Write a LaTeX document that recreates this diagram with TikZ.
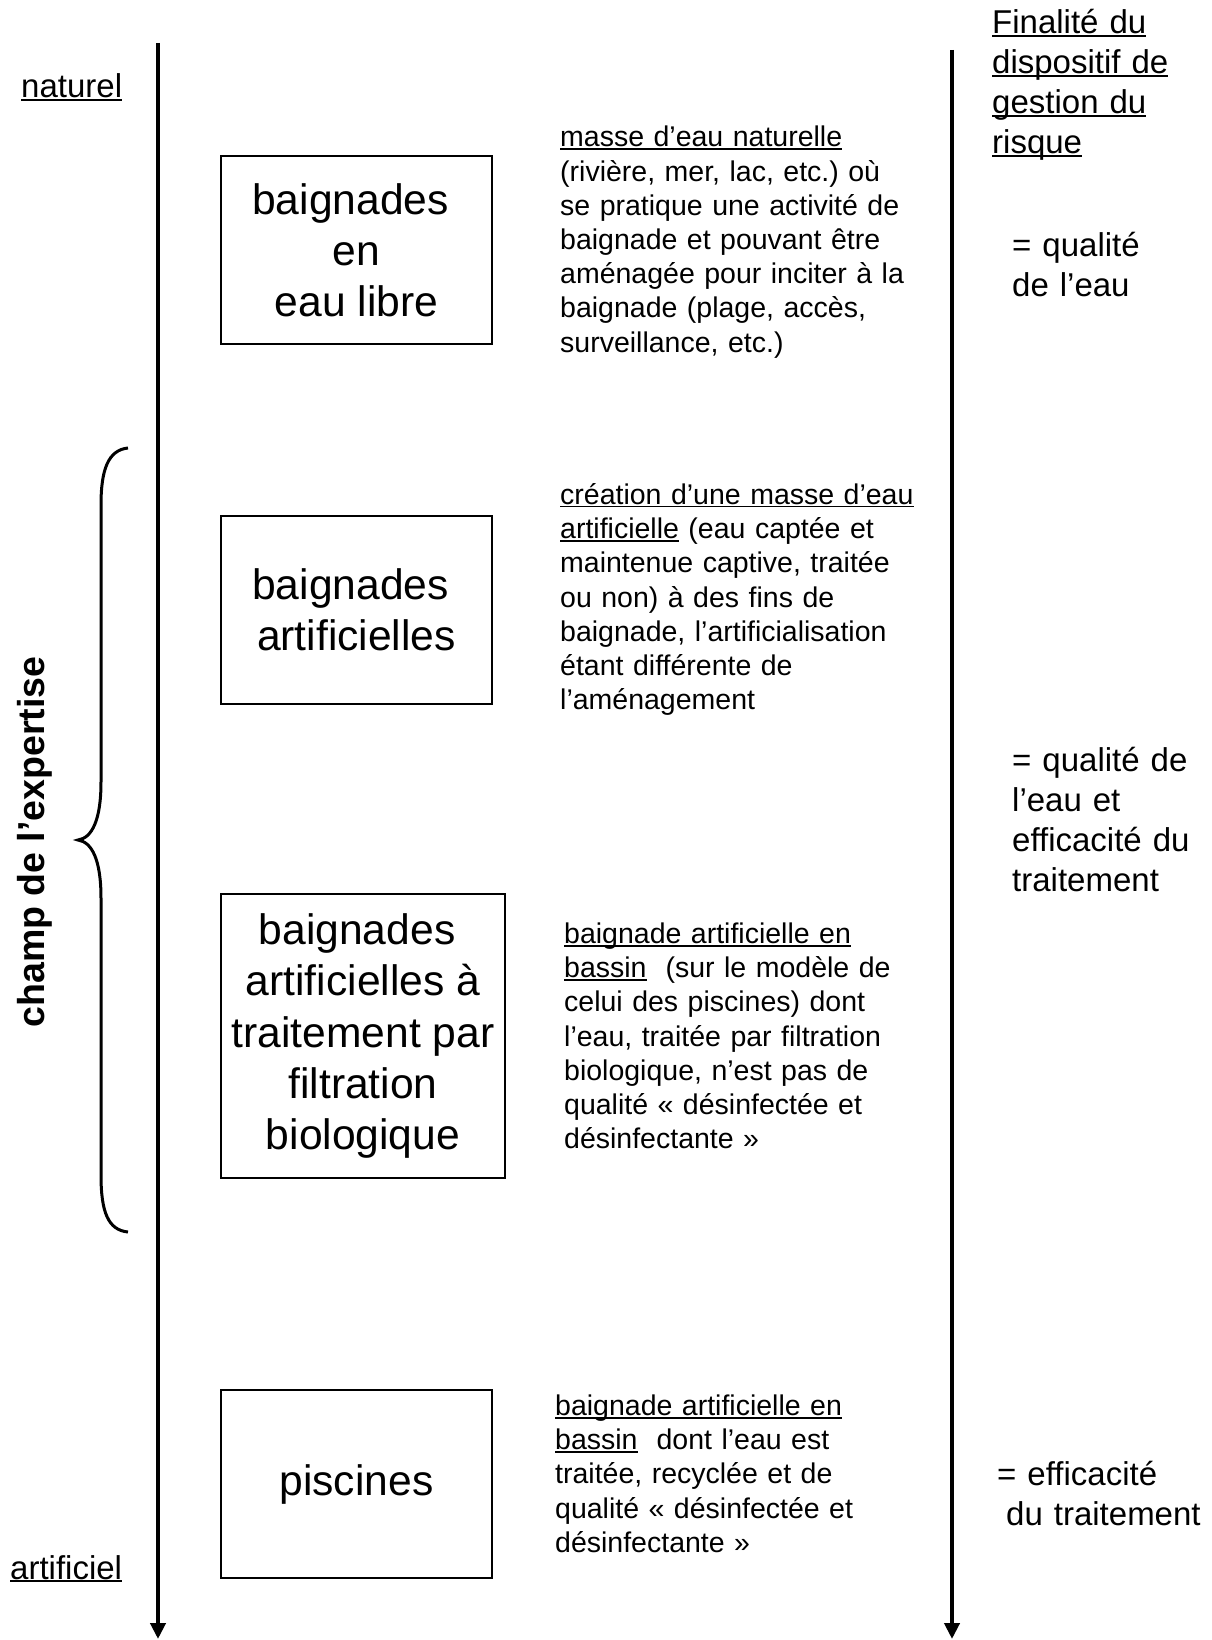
\documentclass[tikz,border=0pt]{standalone}
\usepackage{fontspec}
\setmainfont{Liberation Sans}
\usetikzlibrary{arrows.meta}
\frenchspacing
\newsavebox\myulbox
\newcommand\myul[1]{\leavevmode\sbox\myulbox{#1}\rlap{\rule[-0.105em]{\wd\myulbox}{0.068em}}\usebox\myulbox}
\newcommand\boxfont{\fontsize{42.6}{51.2}\selectfont}
\newcommand\descfont{\fontsize{28.5}{34.2}\selectfont}
\newcommand\sidefont{\fontsize{33}{40}\selectfont}
\newcommand\trsp{\hphantom{\ }}
\begin{document}
\begin{tikzpicture}[x=1pt,y=-1pt,
  bx/.style={draw, line width=1.8pt, inner sep=0pt, align=center, font=\boxfont},
  desc/.style={anchor=base west, inner sep=0pt, text width=400pt, align=left, font=\descfont\frenchspacing},
  side/.style={anchor=base west, inner sep=0pt, text width=210pt, align=left, font=\sidefont\frenchspacing},
  axis/.style={line width=4pt, -{Triangle[width=15pt,length=16pt]}},
  brace/.style={line width=3pt}]
\useasboundingbox (0,0) rectangle (1211,1640);

% axes
\coordinate (Ltop) at (158,43);
\coordinate (Lbot) at (158,1639);
\coordinate (Rtop) at (952,50);
\coordinate (Rbot) at (952,1639);
\draw[axis] (Ltop) -- (Lbot);
\draw[axis] (Rtop) -- (Rbot);

% left labels
\node[side] (nat) at (21,97.5) {\myul{naturel}};
\node[side] (art) at (10,1579) {\myul{artificiel}};
\node[rotate=90, anchor=base, inner sep=0pt, font=\fontsize{37.5}{45}\selectfont\bfseries] (champ) at (44,842) {champ de l’expertise};

% brace
\draw[brace] (128,448) .. controls (108,450) and (101,470) .. (101,505)
  -- (101,782) .. controls (101,820) and (92,838) .. (78,840)
  .. controls (92,842) and (101,860) .. (101,898)
  -- (101,1175) .. controls (101,1212) and (108,1230) .. (128,1232);

% boxes
\node[bx, minimum width=271pt, minimum height=188pt] (b1) at (356.5,250) {baignades\trsp\\en\\eau libre};
\node[bx, minimum width=271pt, minimum height=188pt] (b2) at (356.5,610) {baignades\trsp\\artificielles};
\node[bx, minimum width=284pt, minimum height=284pt] (b3) at (363,1036) {baignades\trsp\\artificielles à\\traitement par\\filtration\\biologique};
\node[bx, minimum width=271pt, minimum height=188pt] (b4) at (356.5,1484) {piscines};

% descriptions
\node[desc] (d1) at (560,147) {\myul{masse d’eau naturelle}\\
(rivière, mer, lac, etc.) où\\
se pratique une activité de\\
baignade et pouvant être\\
aménagée pour inciter à la\\
baignade (plage, accès,\\
surveillance, etc.)};
\node[desc] (d2) at (560,504.5) {\myul{création d’une masse d’eau}\\
\myul{artificielle} (eau captée et\\
maintenue captive, traitée\\
ou non) à des fins de\\
baignade, l’artificialisation\\
étant différente de\\
l’aménagement};
\node[desc] (d3) at (564,943.5) {\myul{baignade artificielle en}\\
\myul{bassin}\ \ (sur le modèle de\\
celui des piscines) dont\\
l’eau, traitée par filtration\\
biologique, n’est pas de\\
qualité « désinfectée et\\
désinfectante »};
\node[desc] (d4) at (555,1415.5) {\myul{baignade artificielle en}\\
\myul{bassin}\ \ dont l’eau est\\
traitée, recyclée et de\\
qualité « désinfectée et\\
désinfectante »};

% right column
\node[side] (fin) at (992,33.5) {\myul{Finalité du}\\
\myul{dispositif de}\\
\myul{gestion du}\\
\myul{risque}};
\node[side] (q1) at (1012,256) {= qualité\\de l’eau};
\node[side] (q2) at (1012,771) {= qualité de\\l’eau et\\efficacité du\\traitement};
\node[side] (q3) at (997,1485) {= efficacité\\\hspace*{9pt}du traitement};
\end{tikzpicture}
\end{document}
